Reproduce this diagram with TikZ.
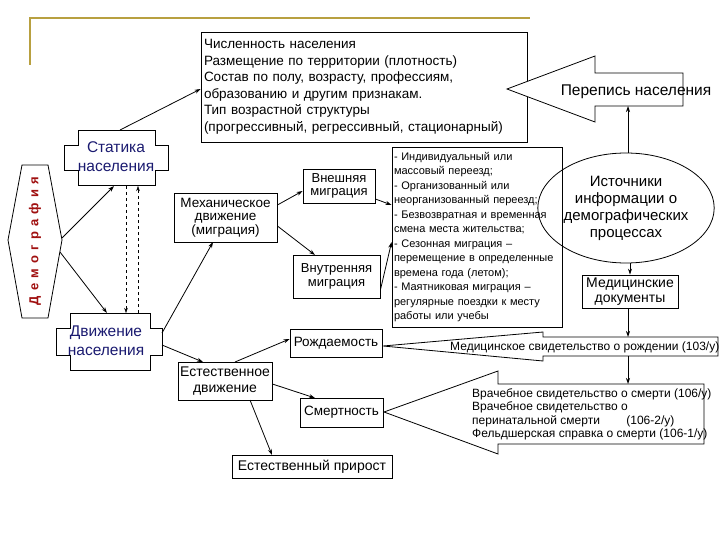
\documentclass[tikz,border=0pt]{standalone}
\usepackage{fontspec}
\setmainfont{Liberation Sans}
\usetikzlibrary{arrows.meta,shapes.geometric,calc}
\definecolor{gold}{HTML}{B8A040}
\definecolor{navy}{HTML}{1A1A70}
\definecolor{dred}{HTML}{A01010}
\begin{document}
\begin{tikzpicture}[x=1pt,y=-1pt,
  box/.style={draw,thick,fill=white,align=center,inner sep=0pt,font=\fontsize{13.5}{14}\selectfont},
  arr/.style={thick,-{Stealth[length=6pt,width=4pt]}},
  darr/.style={dashed,-{Stealth[length=5pt,width=3.5pt]}},
  bigarr/.style={thick,fill=white}]
\useasboundingbox[fill=white] (0,0) rectangle (720,540);
% gold frame
\draw[gold,line width=2pt] (30,65) -- (30,18) -- (530,18);
% top box
\node[box,minimum width=326pt,minimum height=110pt,align=left,text width=320pt,font=\fontsize{13.5}{16.5}\selectfont] (top) at (364,87)
{Численность населения\\Размещение по территории (плотность)\\Состав по полу, возрасту, профессиям,\\образованию и другим признакам.\\Тип возрастной структуры\\(прогрессивный, регрессивный, стационарный)};
% Perepis arrow
\draw[bigarr] (507,89) -- (595,56) -- (595,73) -- (683,73) -- (683,106) -- (595,106) -- (595,122) -- cycle;
\node[font=\fontsize{15.5}{17}\selectfont] (perep) at (636,92) {Перепись населения};
% hexagon demografiya
\draw[thick,fill=white] (22,165) -- (48,165) -- (62,240) -- (48,318) -- (22,318) -- (8,240) -- cycle;
\node[rotate=90,text=dred,font=\bfseries\fontsize{13}{14}\selectfont] (dem) at (35,241) {Д\hspace{0.4em}е\hspace{0.4em}м\hspace{0.4em}о\hspace{0.4em}г\hspace{0.4em}р\hspace{0.4em}а\hspace{0.4em}ф\hspace{0.4em}и\hspace{0.4em}я};
% Statika cross
\draw[thick,fill=white] (78,130) -- (155,130) -- (155,145) -- (168,145) -- (168,170) -- (155,170) -- (155,185) -- (78,185) -- (78,170) -- (64,170) -- (64,145) -- (78,145) -- cycle;
\node[text=navy,align=center,font=\fontsize{15.5}{19}\selectfont] (stat) at (116,157) {Статика\\населения};
% Dvizhenie cross
\draw[thick,fill=white] (70,313) -- (150,313) -- (150,328) -- (162,328) -- (162,355) -- (150,355) -- (150,370) -- (70,370) -- (70,355) -- (56,355) -- (56,328) -- (70,328) -- cycle;
\node[text=navy,align=center,font=\fontsize{15.5}{19}\selectfont] (dvizh) at (106,341) {Движение\\населения};
% boxes
\node[box,minimum width=103pt,minimum height=49pt,font=\fontsize{13.5}{13.5}\selectfont] (mech) at (225.5,217.5) {Механическое\\движение\\(миграция)};
\node[box,minimum width=72pt,minimum height=34pt,font=\fontsize{13}{13.5}\selectfont] (vnesh) at (339,186) {Внешняя\\миграция};
\node[box,minimum width=87pt,minimum height=43pt,font=\fontsize{13}{13.5}\selectfont] (vnutr) at (336.5,276.5) {Внутренняя\\миграция};
\node[box,minimum width=170pt,minimum height=180pt,text width=166pt,align=left,font=\fontsize{11}{14.5}\selectfont] (list) at (477,237)
{- Индивидуальный или\\массовый переезд;\\- Организованный или\\неорганизованный переезд;\\- Безвозвратная и временная\\смена места жительства;\\- Сезонная миграция --\\перемещение в определенные\\времена года (летом);\\- Маятниковая миграция --\\регулярные поездки к месту\\работы или учебы};
\node[draw,thick,ellipse,minimum width=125pt,minimum height=110pt,inner sep=0pt,align=center,font=\fontsize{15}{17}\selectfont] (ell) at (626,208) {Источники\\информации о\\демографических\\процессах};
\node[box,minimum width=96pt,minimum height=33pt,font=\fontsize{14}{15.5}\selectfont] (meddoc) at (630,291.5) {Медицинские\\документы};
\node[box,minimum width=94pt,minimum height=38pt,font=\fontsize{14}{15.5}\selectfont] (estdv) at (225,381) {Естественное\\движение};
\node[box,minimum width=92pt,minimum height=28pt,font=\fontsize{13.5}{14}\selectfont] (rozh) at (336,343) {Рождаемость};
\node[box,minimum width=83pt,minimum height=29pt,font=\fontsize{13.5}{14}\selectfont] (smert) at (341.5,412.5) {Смертность};
\node[box,minimum width=160pt,minimum height=23pt,font=\fontsize{14}{15}\selectfont] (prir) at (312,466.5) {Естественный прирост};
% birth arrow
\draw[bigarr] (383,346) -- (543,332) -- (543,337) -- (718,337) -- (718,356) -- (543,356) -- (543,361) -- cycle;
\node[anchor=west,inner sep=0pt,font=\fontsize{12}{13}\selectfont] (birth) at (450,347) {Медицинское свидетельство о рождении (103/у)};
\coordinate (birthT) at (628,337);
\coordinate (birthB) at (628,356);
% death arrow
\draw[bigarr] (384,412) -- (498,371) -- (498,384) -- (704,384) -- (704,444) -- (498,444) -- (498,454) -- cycle;
\node[anchor=north west,align=left,inner sep=0pt,font=\fontsize{12}{13.5}\selectfont] (death) at (472,388)
{Врачебное свидетельство о смерти (106/у)\\Врачебное свидетельство о\\перинатальной смерти\hspace{2.2em}(106-2/у)\\Фельдшерская справка о смерти (106-1/у)};
\coordinate (deathT) at (628,384);
\coordinate (perepB) at (628,106);
% connectors
\draw[arr] (62,238) -- (114,186);
\draw[arr] (60,252) -- (107,313);
\draw[darr] (126,186) -- (126,313);
\draw[darr] (138,313) -- (138,186);
\draw[arr] (120,130) -- (top.west |- 0,89);
\draw[arr] (162,333) -- (213,242);
\draw[arr] (162,345) -- (203,362);
\draw[arr] (mech.east |- 0,205) -- (vnesh.west |- 0,191);
\draw[arr] (mech.east |- 0,226) -- (315,255);
\draw[arr] (vnesh.east |- 0,199) -- (list.west |- 0,205);
\draw[arr] (vnutr.east |- 0,290) -- (list.west |- 0,242);
\draw[arr] (235,362) -- (rozh.west |- 0,339);
\draw[arr] (estdv.east |- 0,384) -- (315,398);
\draw[arr] (250,400) -- (272,455);
\draw[arr] (ell.north -| perepB) -- (perepB);
\draw[arr] (ell.south -| meddoc.north) -- (meddoc.north);
\draw[arr] (meddoc.south -| birthT) -- (birthT);
\draw[arr] (birthB) -- (deathT);
\end{tikzpicture}
\end{document}
